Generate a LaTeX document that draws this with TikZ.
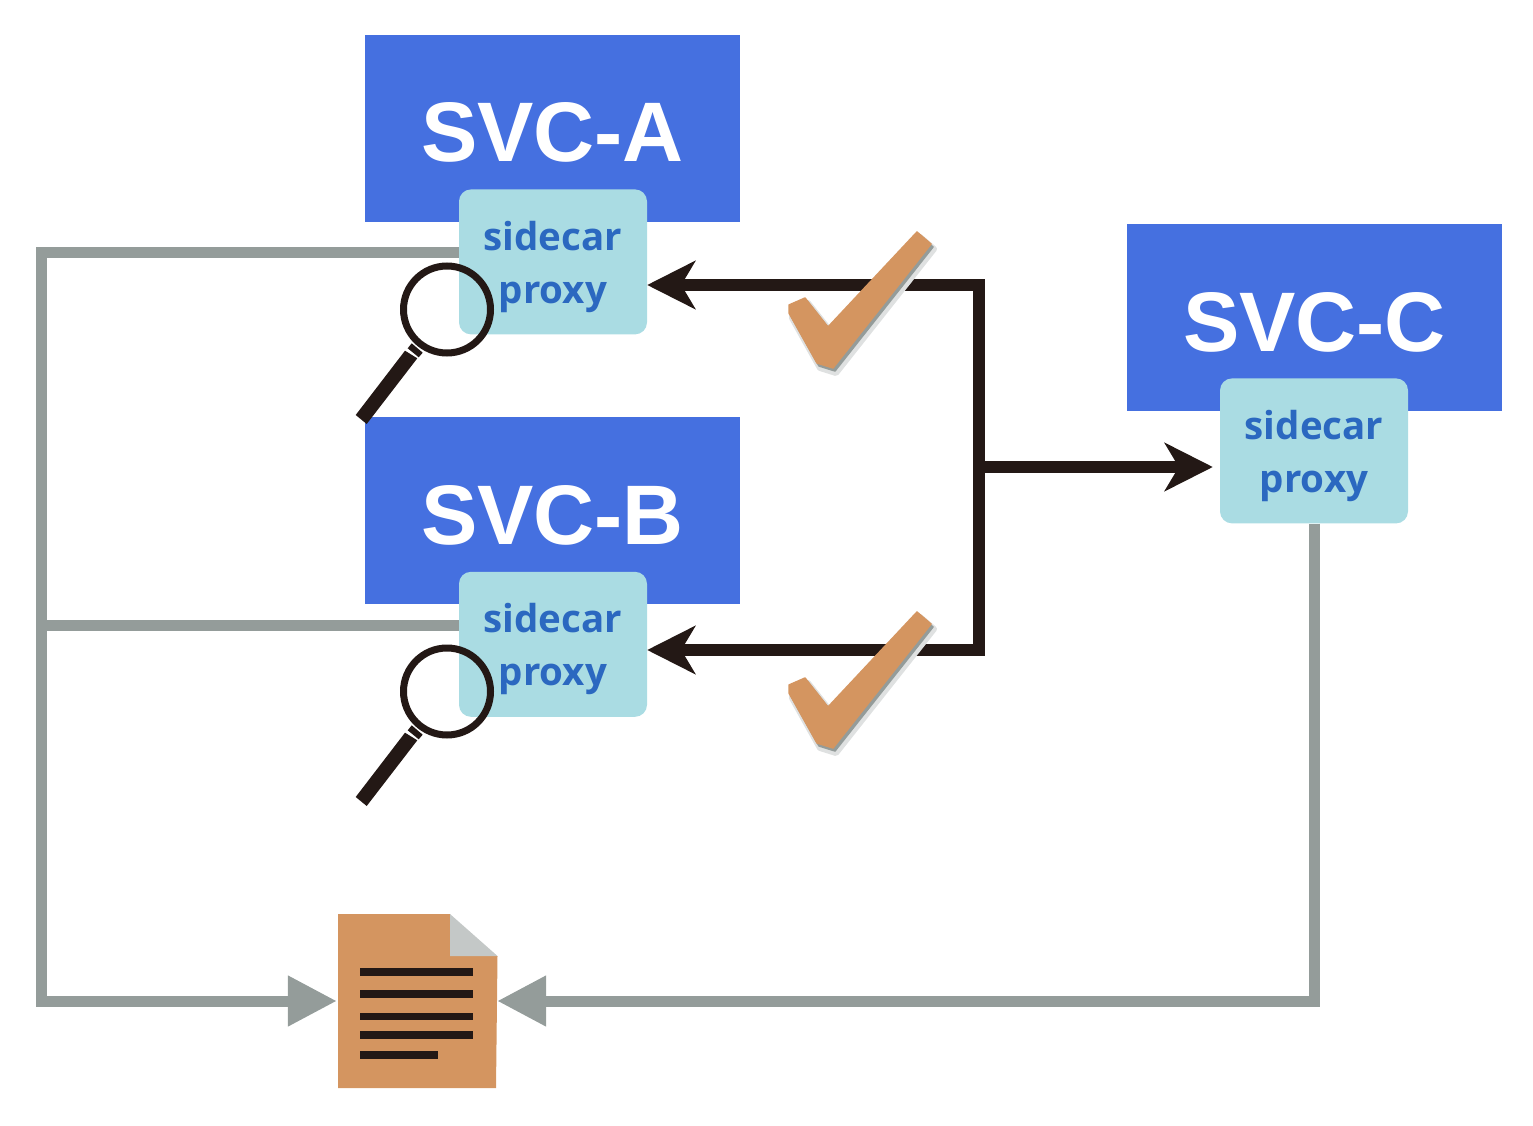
\documentclass[tikz,border=0pt]{standalone}
\usepackage{fontspec}
\usetikzlibrary{arrows.meta, positioning}
\setmainfont{Liberation Sans}
\newfontfamily\proxyfont{Open Sans}

\definecolor{svcblue}{HTML}{4570E0}
\definecolor{proxycyan}{HTML}{AADCE3}
\definecolor{proxytext}{HTML}{2B68C0}
\definecolor{wiregrey}{HTML}{949C9A}
\definecolor{wiredark}{HTML}{231815}
\definecolor{fileorange}{HTML}{D49560}

\tikzset{
    svcbox/.style={fill=svcblue, text=white, minimum width=375pt, minimum height=187pt, inner sep=0pt,
        text height=67pt, text depth=0pt, font=\fontsize{84.5}{84.5}\selectfont\bfseries},
    proxybox/.style={fill=proxycyan, text=proxytext, rounded corners=12pt, minimum width=188pt, minimum height=145pt,
        inner sep=0pt, align=center, text height=92pt, font=\fontsize{38.5}{53}\selectfont\proxyfont\bfseries},
    greywire/.style={draw=wiregrey, line width=11pt, arrows={-Triangle[length=49pt,width=48pt]}},
    darkwire/.style={draw=wiredark, line width=12pt, arrows={Stealth[length=48pt,width=48pt,inset=14pt]-Stealth[length=48pt,width=48pt,inset=14pt]}},
    tickshape/.style={line join=round},
    tickmark/.pic={
        \filldraw[wiregrey!30, line width=6pt, tickshape, shift={(3,5)}] (789,305) -- (805,298) -- (828,327) -- (917,232) -- (931,244) -- (833,368) -- (817,363) -- (789,313) -- cycle;
        \filldraw[wiregrey, line width=1.5pt, tickshape, shift={(2,3)}] (789,305) -- (805,298) -- (828,327) -- (917,232) -- (931,244) -- (833,368) -- (817,363) -- (789,313) -- cycle;
        \filldraw[fileorange, line width=1.5pt, tickshape] (789,305) -- (805,298) -- (828,327) -- (917,232) -- (931,244) -- (833,368) -- (817,363) -- (789,313) -- cycle;
    },
    maglens/.pic={
        \draw[wiredark, line width=7pt] (447,309.5) circle (43.5pt);
        \fill[wiredark] (407.7,348.3) -- (411.7,343.3) -- (422.7,352.7) -- (418.7,357.3) -- cycle;
        \fill[wiredark] (355.7,415) -- (366.7,424) -- (417.3,358.3) -- (405,350.7) -- cycle;
    }
}

\begin{document}
\begin{tikzpicture}[x=1pt, y=-1pt]
    \useasboundingbox (0,0) rectangle (1533,1126);

    % services and their proxies
    \node[svcbox] (svca) at (552.5,128.5) {SVC-A};
    \node[svcbox, below=195pt of svca] (svcb) {SVC-B};
    \node[svcbox] (svcc) at (1314.5,317.5) {SVC-C};
    \node[proxybox, below=-33pt of svca, xshift=.5pt] (sidecara) {sidecar\\proxy};
    \node[proxybox, below=-33pt of svcb, xshift=.5pt] (sidecarb) {sidecar\\proxy};
    \node[proxybox, below=-33pt of svcc, xshift=-.5pt] (sidecarc) {sidecar\\proxy};

    % log file
    \node[minimum width=159pt, minimum height=174pt, inner sep=0pt] (logfile) at (417.5,1001) {};
    \fill[fileorange] (338,914) -- (450,914) -- (450,956) -- (497.5,956) -- (496,1088) -- (338,1088) -- cycle;
    \fill[wiregrey!55] (450,914) -- (497.5,956) -- (450,956) -- cycle;
    \foreach \ypos/\xend in {972/473, 994/473, 1016.5/473, 1035/473, 1055/438}
        \fill[wiredark] (360,\ypos-3.7) rectangle (\xend,\ypos+3.7);

    \coordinate (busa) at (41,252);
    \coordinate (busb) at (41,625);
    \coordinate (busc) at (41,1001);
    \coordinate (turnc) at (sidecarc.south |- logfile.east);
    \coordinate (topcorner) at (979,285);
    \coordinate (lowcorner) at (979,650);
    \coordinate (hub) at (979,467);

    % grey lines towards the file
    \draw[greywire, shorten >=1pt] (sidecara.west |- busa) -- (busa) -- (busc) -- (logfile.west);
    \draw[greywire, arrows=-] (sidecarb.west |- busb) -- (busb);
    \draw[greywire] (sidecarc.south) -- (turnc) -- (logfile.east);

    % dark lines between the proxies
    \draw[darkwire] (sidecara.east |- topcorner) -- (topcorner) -- (lowcorner) -- (sidecarb.east |- lowcorner);
    \draw[darkwire, arrows={-Stealth[length=48pt,width=48pt,inset=14pt]}, shorten >=7pt] (hub) -- (sidecarc.west |- hub);

    \pic {tickmark};
    \pic at (0,380) {tickmark};
    \pic {maglens};
    \pic at (0,382) {maglens};
\end{tikzpicture}
\end{document}
